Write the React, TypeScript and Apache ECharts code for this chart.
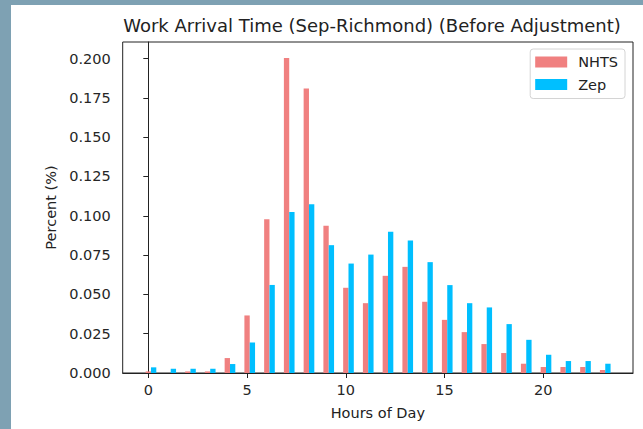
import React, { useEffect, useRef } from "react";
import * as echarts from "echarts";

const hours = [0, 1, 2, 3, 4, 5, 6, 7, 8, 9, 10, 11, 12, 13, 14, 15, 16, 17, 18, 19, 20, 21, 22, 23];
const nhts = [0.001, 0.0, 0.001, 0.001, 0.0095, 0.0366, 0.0978, 0.2004, 0.181, 0.0937, 0.0542, 0.0444, 0.0618, 0.0675, 0.0453, 0.0338, 0.026, 0.0184, 0.0127, 0.0059, 0.0038, 0.0038, 0.0038, 0.0019];
const zep = [0.0036, 0.0027, 0.0027, 0.0027, 0.0057, 0.0194, 0.056, 0.1024, 0.1073, 0.0813, 0.0696, 0.0753, 0.0899, 0.0842, 0.0705, 0.0559, 0.0444, 0.0417, 0.0311, 0.0211, 0.0116, 0.0076, 0.0076, 0.0059];
const xTicks = [0, 5, 10, 15, 20];
const yTicks = [0, 0.025, 0.05, 0.075, 0.1, 0.125, 0.15, 0.175, 0.2];

const FONT = "DejaVu Sans";
const BAR_W = 0.27;

function makeRender(offset: number) {
  return (params: any, api: any) => {
    const h = api.value(0);
    const v = api.value(1);
    const c = h + offset;
    const tl = api.coord([c - BAR_W / 2, v]);
    const br = api.coord([c + BAR_W / 2, 0]);
    return {
      type: "rect",
      shape: { x: tl[0], y: tl[1], width: br[0] - tl[0], height: br[1] - tl[1] },
      style: { fill: api.visual("color") },
    };
  };
}

export default function App() {
  const ref = useRef<HTMLDivElement>(null);
  useEffect(() => {
    const chart = echarts.init(ref.current!, null, { renderer: "svg" });
    chart.setOption({
      animation: false,
      backgroundColor: "#ffffff",
      title: {
        text: "Work Arrival Time (Sep-Richmond) (Before Adjustment)",
        left: 372,
        top: 16,
        textAlign: "center",
        padding: 0,
        textStyle: { fontFamily: FONT, fontSize: 18, fontWeight: "normal", color: "#222" },
      },
      graphic: [
        { type: "rect", left: 0, top: 0, shape: { width: 11, height: 429 }, style: { fill: "#7ea1b3" }, z: 100 },
        { type: "rect", left: 0, top: 0, shape: { width: 643, height: 5 }, style: { fill: "#7ea1b3" }, z: 100 },
      ],
      legend: {
        orient: "vertical",
        right: 18,
        top: 49,
        padding: [5, 7, 6, 5],
        itemWidth: 32,
        itemHeight: 11,
        itemGap: 6.5,
        borderColor: "#d4d4d4",
        borderWidth: 1,
        borderRadius: 3,
        backgroundColor: "#ffffff",
        textStyle: { fontFamily: FONT, fontSize: 14.5, color: "#222", lineHeight: 16, padding: [0, 0, 0, 6] },
        data: [
          { name: "NHTS", icon: "rect" },
          { name: "Zep", icon: "rect" },
        ],
      },
      grid: {
        left: 122.7,
        right: 10,
        top: 42,
        bottom: 56,
        show: true,
        borderColor: "#222",
        borderWidth: 1,
        backgroundColor: "transparent",
      },
      xAxis: {
        type: "value",
        min: -1.296,
        max: 24.54,
        name: "Hours of Day",
        nameLocation: "middle",
        nameGap: 32,
        nameTextStyle: { fontFamily: FONT, fontSize: 14.5, color: "#222" },
        axisLine: { show: true, onZero: false, lineStyle: { color: "#222", width: 1 } },
        axisTick: { show: true, length: 5, lineStyle: { color: "#222" }, customValues: xTicks },
        axisLabel: { fontFamily: FONT, fontSize: 14.5, color: "#262626", margin: 9, customValues: xTicks },
        splitLine: { show: false },
      },
      yAxis: {
        type: "value",
        min: 0,
        max: 0.2105,
        name: "Percent (%)",
        nameLocation: "middle",
        nameGap: 64,
        nameRotate: 90,
        nameTextStyle: { fontFamily: FONT, fontSize: 14.5, color: "#222" },
        axisLine: { show: true, lineStyle: { color: "#222", width: 1 } },
        axisTick: { show: true, length: 5, lineStyle: { color: "#222" }, customValues: yTicks },
        axisLabel: {
          fontFamily: FONT,
          fontSize: 14.5,
          color: "#262626",
          margin: 12,
          customValues: yTicks,
          formatter: (v: number) => v.toFixed(3),
        },
        splitLine: { show: false },
      },
      series: [
        {
          name: "NHTS",
          type: "custom",
          renderItem: makeRender(0),
          itemStyle: { color: "#F08080" },
          encode: { x: 0, y: 1 },
          data: hours.map((h, i) => [h, nhts[i]]),
          z: 2,
        },
        {
          name: "Zep",
          type: "custom",
          renderItem: makeRender(BAR_W),
          itemStyle: { color: "#00BFFF" },
          encode: { x: 0, y: 1 },
          data: hours.map((h, i) => [h, zep[i]]),
          z: 3,
        },
      ],
    });
    return () => chart.dispose();
  }, []);
  return (
    <div
      ref={ref}
      style={{ position: "fixed", left: 0, top: 0, width: 643, height: 429, background: "#fff" }}
    />
  );
}
